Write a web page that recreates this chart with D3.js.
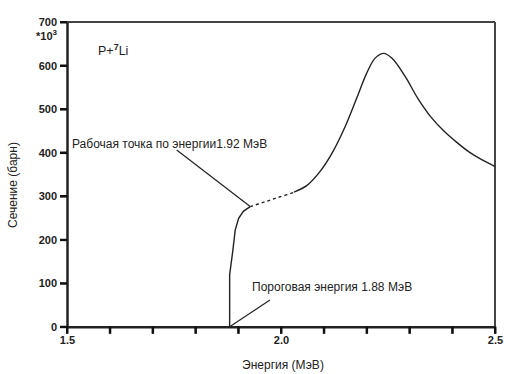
<!DOCTYPE html>
<html><head><meta charset="utf-8">
<script src="https://cdn.jsdelivr.net/npm/d3@7"></script>
<style>body{margin:0;background:#fff}svg{display:block}</style>
</head><body>
<script>
// Data
const energyLow = [1.880, 1.880, 1.8876, 1.893, 1.901, 1.912, 1.928];
const sigmaLow  = [0, 119, 176, 222, 249, 265, 276];
const energy = [1.928, 1.96, 1.99, 2.03, 2.06, 2.09, 2.12, 2.15, 2.18, 2.20, 2.22, 2.24, 2.26, 2.29, 2.32, 2.35, 2.38, 2.41, 2.44, 2.47, 2.5];
const sigma  = [276, 286, 296, 309, 324, 355, 400, 460, 533, 582, 617, 628, 616, 575, 524, 482, 450, 424, 401, 383, 368];
const dottedFrom = 1.928, dottedTo = 2.03;   // dotted section of the curve
const xTicks = [1.5,1.6,1.7,1.8,1.9,2.0,2.1,2.2,2.3,2.4,2.5];
const xTickLabels = ["1.5","","","","","2.0","","","","","2.5"];
const yTicks = [0,100,200,300,400,500,600,700];
const yTickLabels = ["0","100","200","300","400","500","600","700"];

const W=506,H=374;
const svg=d3.select("body").append("svg").attr("width",W).attr("height",H)
  .style("font-family","'Liberation Sans', Arial, sans-serif");
const x=d3.scaleLinear().domain([1.5,2.5]).range([67,495]);
const y=d3.scaleLinear().domain([0,700]).range([326.7,22]);
const ink="#222";

// frame top/right
svg.append("line").attr("x1",x(1.5)).attr("x2",x(2.5)).attr("y1",y(700)).attr("y2",y(700)).attr("stroke","#444").attr("stroke-width",2);
svg.append("line").attr("x1",x(2.5)).attr("x2",x(2.5)).attr("y1",y(700)).attr("y2",y(0)).attr("stroke","#444").attr("stroke-width",2);

const xa=svg.append("g").attr("transform",`translate(0,${y(0)})`)
  .call(d3.axisBottom(x).tickValues(xTicks).tickSize(7).tickSizeOuter(0)
    .tickFormat((d,i)=>xTickLabels[i]));
const ya=svg.append("g").attr("transform",`translate(${x(1.5)},0)`)
  .call(d3.axisLeft(y).tickValues(yTicks).tickSize(7).tickSizeOuter(0)
    .tickFormat((d,i)=>yTickLabels[i]));
[xa,ya].forEach(a=>{
  a.select(".domain").attr("stroke",ink).attr("stroke-width",2.5);
  a.selectAll(".tick line").attr("stroke","#111").attr("stroke-width",2);
  a.selectAll(".tick text").attr("fill",ink).style("font-size","11px").style("font-weight","bold")
   .style("font-family","'Liberation Sans Narrow','Liberation Sans',Arial,sans-serif");
});
xa.selectAll(".tick text").attr("dy","0.85em").attr("y",8);
ya.selectAll(".tick text").attr("x",-10);
// tick marks drawn as one path
const tickPath=d3.path();
xTicks.forEach(d=>{tickPath.moveTo(x(d),y(0));tickPath.lineTo(x(d),y(0)+7);});
yTicks.forEach(d=>{tickPath.moveTo(x(1.5)-7,y(d));tickPath.lineTo(x(1.5),y(d));});
svg.append("path").attr("d",tickPath.toString()).attr("fill","none")
  .attr("stroke","#111").attr("stroke-width",2);

// multiplier
const mult=svg.append("text").attr("x",57).attr("y",40).attr("text-anchor","end")
  .attr("fill",ink).style("font-size","11px").style("font-weight","bold").text("*10");
mult.append("tspan").attr("dy",-5).style("font-size","8px").text("3");

// curve
const defs=svg.append("defs");
defs.append("clipPath").attr("id","solidR").append("rect")
  .attr("x",x(dottedTo)).attr("y",0).attr("width",W).attr("height",H);
defs.append("clipPath").attr("id","dot").append("rect")
  .attr("x",x(dottedFrom)).attr("y",0).attr("width",x(dottedTo)-x(dottedFrom)).attr("height",H);
const lineLow=d3.line().x(d=>x(d[0])).y(d=>y(d[1]));
svg.append("path").datum(energyLow.map((e,i)=>[e,sigmaLow[i]])).attr("d",lineLow)
  .attr("fill","none").attr("stroke",ink).attr("stroke-width",1.4);
const pts=energy.map((e,i)=>[e,sigma[i]]);
const line=d3.line().x(d=>x(d[0])).y(d=>y(d[1])).curve(d3.curveCatmullRom.alpha(0.5));
svg.append("path").datum(pts).attr("d",line).attr("clip-path","url(#solidR)")
  .attr("fill","none").attr("stroke",ink).attr("stroke-width",1.4);
svg.append("path").datum(pts).attr("d",line).attr("clip-path","url(#dot)")
  .attr("fill","none").attr("stroke",ink).attr("stroke-width",1.4).attr("stroke-dasharray","3,3");

// annotations
svg.append("line").attr("x1",176.7).attr("y1",150).attr("x2",x(1.928)).attr("y2",y(276))
  .attr("stroke",ink).attr("stroke-width",1.2);
svg.append("text").attr("x",72).attr("y",147.5).attr("fill",ink).style("font-size","12px")
  .text("Рабочая точка по энергии1.92 МэВ");
svg.append("line").attr("x1",270).attr("y1",300).attr("x2",x(1.88)).attr("y2",y(0))
  .attr("stroke",ink).attr("stroke-width",1.2);
svg.append("text").attr("x",252).attr("y",291).attr("fill",ink).style("font-size","12px")
  .text("Пороговая энергия 1.88 МэВ");

// reaction label
const r=svg.append("text").attr("x",98).attr("y",55).attr("fill",ink).style("font-size","12.5px").text("P+");
r.append("tspan").attr("dy",-5).style("font-size","9px").style("font-weight","bold").text("7");
r.append("tspan").attr("dy",5).text("Li");

// axis titles
svg.append("text").attr("x",283).attr("y",369).attr("text-anchor","middle").attr("fill",ink)
  .style("font-size","12px").text("Энергия (МэВ)");
svg.append("text").attr("transform","translate(17,185) rotate(-90)").attr("text-anchor","middle")
  .attr("fill",ink).style("font-size","12px").text("Сечение (барн)");
</script>
</body></html>
